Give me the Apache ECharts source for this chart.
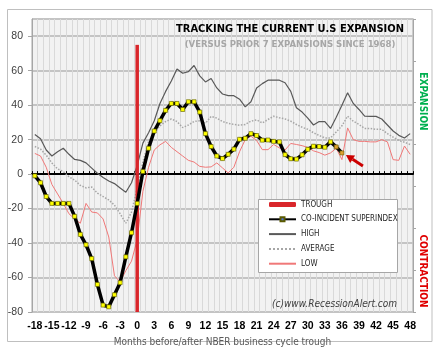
<!DOCTYPE html>
<html><head><meta charset="utf-8">
<script src="https://cdn.jsdelivr.net/npm/echarts@6/dist/echarts.min.js"></script>
<style>html,body{margin:0;padding:0;background:#fff}#c{width:437px;height:355px}</style>
</head><body><div id="c"></div>
<script>
// Categories: months before/after the NBER business cycle trough
const months = ['-18','-17','-16','-15','-14','-13','-12','-11','-10','-9','-8','-7','-6','-5','-4','-3','-2','-1',
  '0','1','2','3','4','5','6','7','8','9','10','11','12','13','14','15','16','17','18','19','20','21','22','23','24',
  '25','26','27','28','29','30','31','32','33','34','35','36','37','38','39','40','41','42','43','44','45','46','47','48'];

// Co-incident superindex (months -18 .. 36)
const superindex = [-1,-5,-13,-17,-17,-17,-17,-24.5,-35,-41,-49,-64,-76,-77,-70,-63,-48,-34,
  -17,1.5,15,25,31,37,41,41,37.5,42,
  42,36,23.5,16,10.5,9,11.5,14.5,20.2,20.8,
  23.5,22.4,19.7,19.8,19,18.7,11.3,8.9,8.7,11.2,
  14.4,16.2,16,15.6,18.7,15.8,12.3];

// Prior expansions: high / average / low (months -18 .. 48)
const high = [23,20.5,14,10.5,13,15,11.5,8.5,8,6.5,3.5,0.5,-2,-4,-5.5,-8,-10.5,-5,
  5,18,24,31,41,48,54,61,58.5,59.5,
  63,57,53.5,55.5,50,46.5,45.5,45.5,43.5,39,
  42,50,52.5,54.5,54.5,54.5,53,48,38.5,36,
  32.5,28.5,30.5,30.5,26.5,33,40,47.2,41,37.5,
  33.6,33.5,33.5,32,28.5,25,22.5,21,23.5];

const average = [16,14.5,11,6.5,3,1.5,-1.5,-3.5,-6.5,-8,-7.5,-11,-13,-15,-18,-23,-28.5,-22,
  -8,7,19,24,28,30.5,32,30.5,27,28.5,
  30.5,31,29.5,33.5,32.5,30.5,29.5,28.8,28.4,28.8,
  30.7,31.5,29.7,31.7,33.6,32.7,32,30.7,28.8,27.2,
  26,24,22.4,21,21,24.5,28,33.6,30.7,28.8,
  26.5,26.5,26,26,23.5,21.5,19.5,18.5,17.2];

const low = [12,10.5,4,-6,-11.5,-17,-23,-26,-28.5,-17,-22,-22.5,-26,-36.5,-59,-62.5,-56,-50.5,
  -38,-10,4,14,17,19,15.5,13,10.5,8,
  7,4.5,4,4.2,6.5,3.6,0.7,4,13,20,
  22,19.5,14.2,14.2,17.2,15.2,14,17.8,17.2,16.5,
  15.5,13.5,12.5,11,12.3,15,8.4,26.8,20,19,
  19,18.7,18.7,20,18.7,8.4,8,16.3,11.5];

// Trough marker (vertical bar at month 0)
const troughMonth = '0';
const troughHigh = 75;
const troughLow = -80;

// Y-axis settings
const yMin = -80, yMax = 90, yStep = 20;

const NARROW = "'Liberation Sans Narrow','DejaVu Sans Condensed','Liberation Sans',sans-serif";
const SANS = "'Liberation Sans','DejaVu Sans',sans-serif";
const RED = '#d9262b';

const chart = echarts.init(document.getElementById('c'), null, {renderer:'canvas'});

const noSym = {opacity:0};
const option = {
  animation:false,
  backgroundColor:'#ffffff',
  grid:{left:32,right:24,top:19,bottom:43,show:true,backgroundColor:'#f2f2f2',borderColor:'#a6a6a6',borderWidth:1},
  legend:{
    orient:'vertical', left:268, top:200.5, padding:0,
    itemWidth:27, itemHeight:5, itemGap:6.8, itemTextGap:4,
    data:[
      {name:'TROUGH'},
      {name:'CO-INCIDENT SUPERINDEX'},
      {name:'HIGH',itemStyle:noSym},
      {name:'AVERAGE',itemStyle:noSym},
      {name:'LOW',itemStyle:noSym}
    ],
    textStyle:{fontSize:8,color:'#262626',fontFamily:NARROW},
    z:6
  },
  xAxis:[
    {type:'category',data:months,boundaryGap:true,position:'bottom',
     axisLine:{show:false,onZero:false},axisTick:{show:false},
     axisLabel:{interval:2,margin:9,fontSize:10.5,fontWeight:'bold',color:'#000',fontFamily:SANS},
     splitLine:{show:true,interval:0,lineStyle:{color:'#d9d9d9',width:1}},
     name:'Months before/after NBER business cycle trough',nameLocation:'middle',nameGap:25,
     nameTextStyle:{fontSize:10,color:'#595959',fontFamily:NARROW}},
    {type:'category',data:months,boundaryGap:true,position:'bottom',
     axisLine:{show:true,onZero:true,onZeroAxisIndex:0,lineStyle:{color:'#000',width:2}},
     axisTick:{show:true,interval:0,inside:true,length:3,lineStyle:{color:'#000',width:1}},
     axisLabel:{show:false},splitLine:{show:false}}
  ],
  yAxis:[
    {type:'value',min:yMin,max:yMax,interval:yStep,position:'left',
     axisLine:{show:true,lineStyle:{color:'#a6a6a6'}},
     axisTick:{show:true,length:4,lineStyle:{color:'#a6a6a6'}},
     axisLabel:{margin:9,fontSize:10.5,color:'#404040',fontFamily:SANS,showMaxLabel:false},
     splitLine:{show:true,lineStyle:{color:'#c4c4c4',width:2}}},
    {type:'value',min:0,max:7,interval:1,position:'right',
     axisLine:{show:true,lineStyle:{color:'#a6a6a6'}},
     axisTick:{show:true,length:3,lineStyle:{color:'#a6a6a6'}},
     axisLabel:{show:false},splitLine:{show:false}}
  ],
  series:[
    {name:'HIGH',type:'line',data:high,symbol:'none',z:2,
     lineStyle:{color:'#595959',width:1.2},itemStyle:{color:'#595959'}},
    {name:'AVERAGE',type:'line',data:average,symbol:'none',z:2,
     lineStyle:{color:'#a6a6a6',width:1.5,type:'dotted'},itemStyle:{color:'#a6a6a6'}},
    {name:'LOW',type:'line',data:low,symbol:'none',z:2,
     lineStyle:{color:'#f07878',width:1},itemStyle:{color:'#f07878'}},
    {name:'TROUGH',type:'bar',stack:'trough',barWidth:3.5,z:3,
     data:months.map(m => m === troughMonth ? troughHigh : null),itemStyle:{color:RED}},
    {name:'TROUGH',type:'bar',stack:'trough',barWidth:3.5,z:3,
     data:months.map(m => m === troughMonth ? troughLow : null),itemStyle:{color:RED}},
    {name:'CO-INCIDENT SUPERINDEX',type:'line',data:superindex,z:4,
     symbol:'rect',symbolSize:4,showAllSymbol:true,
     lineStyle:{color:'#000',width:3.5},
     itemStyle:{color:p => p.dataIndex >= superindex.length - 2 ? '#e0a030' : '#ffff00',borderColor:'#5a5a00',borderWidth:0.6}}
  ]
};
chart.setOption(option);

const lastIdx = superindex.length - 1;
const p = chart.convertToPixel({xAxisIndex:0,yAxisIndex:0},[months[lastIdx],superindex[lastIdx]]);
const tip = [p[0]+4,p[1]+2], tail = [p[0]+21,p[1]+13];
const dx = tip[0]-tail[0], dy = tip[1]-tail[1], L = Math.hypot(dx,dy);
const ux = dx/L, uy = dy/L, hl = 8, hw = 4.5;
const bc = [tip[0]-ux*hl, tip[1]-uy*hl];

chart.setOption({graphic:[
  {type:'rect',id:'outer',shape:{x:7.5,y:9.5,width:424.5,height:332},style:{fill:null,stroke:'#bfbfbf',lineWidth:1},z:0,silent:true},
  {type:'rect',id:'legbox',shape:{x:258.5,y:199.5,width:139,height:73},style:{fill:'#ffffff',stroke:'#a6a6a6',lineWidth:1},z:5,silent:true},
  {type:'text',id:'title',x:290,y:29.5,style:{text:'TRACKING THE CURRENT U.S EXPANSION',align:'center',verticalAlign:'middle',font:"bold 11px "+NARROW,fill:'#000'},z:7},
  {type:'text',id:'sub',x:290,y:45,style:{text:'(VERSUS PRIOR 7 EXPANSIONS SINCE 1968)',align:'center',verticalAlign:'middle',font:"bold 9.5px "+NARROW,fill:'#a6a6a6'},z:7},
  {type:'text',id:'exp',x:423,y:101.5,rotation:-Math.PI/2,style:{text:'EXPANSION',align:'center',verticalAlign:'middle',font:"bold 10px "+NARROW,fill:'#00b050'},z:7},
  {type:'text',id:'con',x:423,y:271,rotation:-Math.PI/2,style:{text:'CONTRACTION',align:'center',verticalAlign:'middle',font:"bold 10px "+NARROW,fill:'#e00000'},z:7},
  {type:'text',id:'copy',x:334.5,y:304,style:{text:'(c)www.RecessionAlert.com',align:'center',verticalAlign:'middle',font:"italic 10px "+NARROW,fill:'#404040'},z:7},
  {type:'line',id:'shaft',shape:{x1:tail[0],y1:tail[1],x2:bc[0],y2:bc[1]},style:{stroke:'#cc0000',lineWidth:3},z:8},
  {type:'polygon',id:'head',shape:{points:[tip,[bc[0]-uy*hw,bc[1]+ux*hw],[bc[0]+uy*hw,bc[1]-ux*hw]]},style:{fill:'#cc0000'},z:8}
]});
</script></body></html>
